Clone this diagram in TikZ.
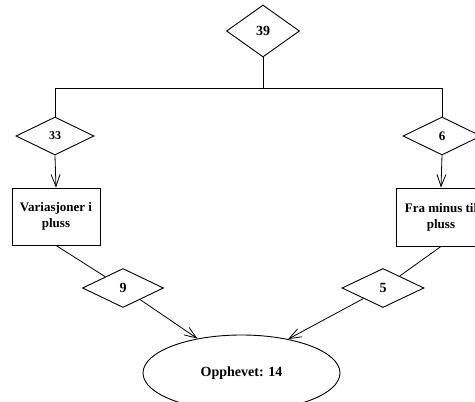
\documentclass[tikz,border=0pt]{standalone}
\usepackage{fontspec}
\setmainfont{Liberation Serif}
\usetikzlibrary{shapes.geometric,arrows.meta}
\tikzset{
  base/.style={draw, line width=0.9pt, fill=white, inner sep=0pt, align=center,
    font=\bfseries\fontsize{13}{16}\selectfont},
  rhomb/.style={base, diamond},
  card/.style={base, rectangle},
  oval/.style={base, ellipse},
  link/.style={draw, line width=0.8pt},
  tip/.style={-{Straight Barb[length=12pt,width=9pt,line width=0.8pt]}},
  big/.style={font=\bfseries\fontsize{14}{16}\selectfont},
  small/.style={font=\bfseries\fontsize{12}{14}\selectfont}
}
\begin{document}
\begin{tikzpicture}[x=1pt,y=-1pt]
\useasboundingbox (0,0) rectangle (475,402);
\clip (0,0) rectangle (475,402);

% top split
\node[rhomb, big, minimum width=73pt, minimum height=52pt] (d39) at (263,31) {39};
\coordinate (j)  at (263,88);
\coordinate (jl) at (55,88);
\coordinate (jr) at (442,88);

% two branches
\node[rhomb, small, minimum width=78pt, minimum height=38pt] (d33) at (55,136) {33};
\node[rhomb, minimum width=78pt, minimum height=38pt] (d6) at (442,136) {6};
\node[card, minimum width=88pt, minimum height=57pt] (bl) at (56,216.5) {Variasjoner i\\pluss};
\node[card, minimum width=90pt, minimum height=58pt] (br) at (441,217) {Fra minus til\\pluss};

% result
\node[oval, big, minimum width=197pt, minimum height=76pt] (res) at (241.5,373) {Opphevet: 14};

\draw[link] (d39.south) -- (j);
\draw[link] (jl) -- (jr);
\draw[link] (jl) -- (d33.north);
\draw[link] (jr) -- (d6.north);
\draw[link,tip] (d33.south) -- (bl.north);
\draw[link,tip] (d6.south) -- (br.north);

% merging counts
\node[rhomb, big, minimum width=81pt, minimum height=39pt] (d9) at (123,288) {9};
\node[rhomb, big, minimum width=82pt, minimum height=39pt] (d5) at (383,288) {5};

\draw[link] (bl.south) -- (d9);
\draw[link,tip] (d9) -- (res.142);
\draw[link] (br.south) -- (d5);
\draw[link,tip] (d5) -- (res.36.5);
\end{tikzpicture}
\end{document}
